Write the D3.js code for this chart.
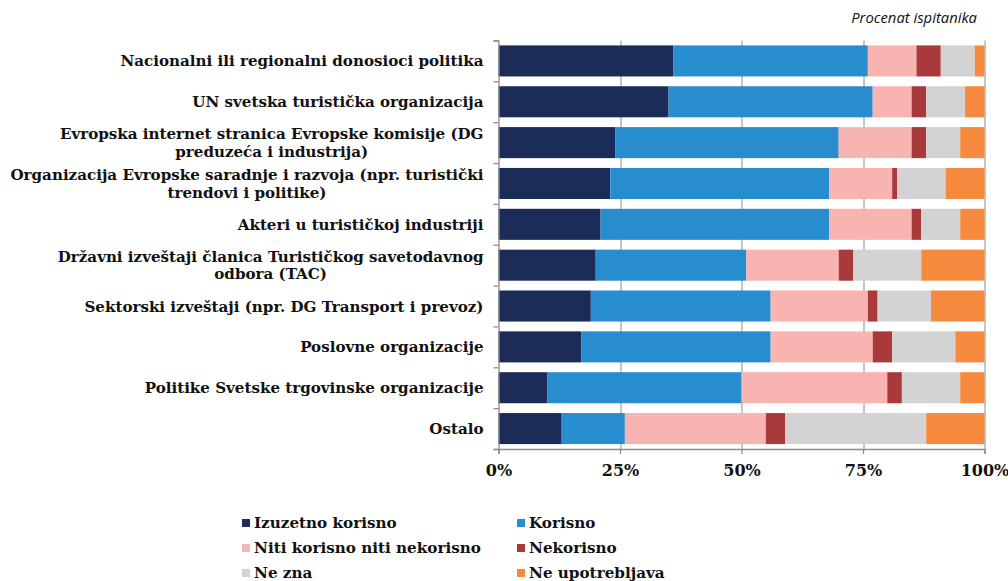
<!DOCTYPE html>
<html>
<head>
<meta charset="utf-8">
<script src="https://cdn.jsdelivr.net/npm/d3@7"></script>
<style>
  body { margin: 0; background: #fff; }
  text { fill: #111; }
  .lbl { font-family: "DejaVu Serif", Georgia, serif; font-weight: bold; font-size: 15.1px; }
  .tick-lbl { font-family: "DejaVu Serif", Georgia, serif; font-weight: bold; font-size: 16px; }
  .leg { font-family: "DejaVu Serif", Georgia, serif; font-weight: bold; font-size: 15.2px; }
  .note { font-family: "Open Sans", sans-serif; font-style: italic; font-size: 14.8px; }
</style>
</head>
<body>
<div id="chart"></div>
<script>
// Data
var categories = [
    "Nacionalni ili regionalni donosioci politika",
    "UN svetska turistička organizacija",
    "Evropska internet stranica Evropske komisije (DG\npreduzeća i industrija)",
    "Organizacija Evropske saradnje i razvoja (npr. turistički\ntrendovi i politike)",
    "Akteri u turističkoj industriji",
    "Državni izveštaji članica Turističkog savetodavnog\nodbora (TAC)",
    "Sektorski izveštaji (npr. DG Transport i prevoz)",
    "Poslovne organizacije",
    "Politike Svetske trgovinske organizacije",
    "Ostalo"
];
var seriesNames = ["Izuzetno korisno", "Korisno", "Niti korisno niti nekorisno", "Nekorisno", "Ne zna", "Ne upotrebljava"];
var izuzetnoKorisno = [36, 35, 24, 23, 21, 20, 19, 17, 10, 13];
var korisno = [40, 42, 46, 45, 47, 31, 37, 39, 40, 13];
var nitiKorisno = [10, 8, 15, 13, 17, 19, 20, 21, 30, 29];
var nekorisno = [5, 3, 3, 1, 2, 3, 2, 4, 3, 4];
var neZna = [7, 8, 7, 10, 8, 14, 11, 13, 12, 29];
var neUpotrebljava = [2, 4, 5, 8, 5, 13, 11, 6, 5, 12];
var xTicks = [0, 25, 50, 75, 100];
var colors = ["#1b2c59", "#288dce", "#f7b4b1", "#a9393a", "#d2d3d2", "#f68a3e"];

var svgWidth = 1008;
var svgHeight = 581;
var margin = { top: 40.5, right: 23.5, bottom: 132, left: 498.5 };
var chartWidth = svgWidth - margin.left - margin.right;
var chartHeight = svgHeight - margin.top - margin.bottom;

var svg = d3.select("#chart").append("svg")
    .attr("width", svgWidth)
    .attr("height", svgHeight);

var chartGroup = svg.append("g")
    .attr("transform", `translate(${margin.left},${margin.top})`);

// Build stack table
var allSeries = [izuzetnoKorisno, korisno, nitiKorisno, nekorisno, neZna, neUpotrebljava];
var table = categories.map(function(c, i) {
    var row = { cat: c };
    seriesNames.forEach(function(s, j) { row[s] = allSeries[j][i]; });
    return row;
});
var stacked = d3.stack().keys(seriesNames)(table);

var xScale = d3.scaleLinear().domain([0, 100]).range([0, chartWidth]);
var yScale = d3.scaleBand().domain(categories).range([0, chartHeight]).paddingInner(0.24).paddingOuter(0.12);
var yIndex = d3.scaleLinear().domain([0, categories.length]).range([0, chartHeight]);

// Gridlines
chartGroup.selectAll(".grid")
    .data(xTicks.slice(1))
    .enter()
    .append("line")
    .attr("x1", d => Math.round(xScale(d)) + 0.5)
    .attr("x2", d => Math.round(xScale(d)) + 0.5)
    .attr("y1", 0)
    .attr("y2", chartHeight)
    .attr("stroke", "#8c8c8c")
    .attr("stroke-width", 1);

// Bars
var layers = chartGroup.selectAll(".layer")
    .data(stacked)
    .enter()
    .append("g")
    .attr("fill", (d, i) => colors[i]);

layers.selectAll("rect")
    .data(d => d)
    .enter()
    .append("rect")
    .attr("x", d => xScale(d[0]))
    .attr("width", d => xScale(d[1]) - xScale(d[0]))
    .attr("y", d => yScale(d.data.cat))
    .attr("height", yScale.bandwidth());

// Y axis (ticks between categories)
var yAxis = d3.axisLeft(yIndex)
    .tickValues(d3.range(0, categories.length + 1))
    .tickSize(5)
    .tickFormat("");
var yAxisG = chartGroup.append("g").call(yAxis);
yAxisG.selectAll("path, line").attr("stroke", "#8c8c8c").attr("stroke-width", 1.3);

// X axis
var xAxis = d3.axisBottom(xScale)
    .tickValues(xTicks)
    .tickSize(5)
    .tickPadding(11)
    .tickFormat(d => d + "%");
var xAxisG = chartGroup.append("g")
    .attr("transform", `translate(0,${chartHeight})`)
    .call(xAxis);
xAxisG.selectAll("path, line").attr("stroke", "#8c8c8c").attr("stroke-width", 1.3);
xAxisG.selectAll("text").attr("class", "tick-lbl").attr("fill", "#111");

// Category labels
var labelRight = -15;
categories.forEach(function(c) {
    var lines = c.split("\n");
    var cy = yScale(c) + yScale.bandwidth() / 2;
    var t = chartGroup.append("text").attr("class", "lbl");
    var lh = 17.5;
    var y0 = cy - (lines.length - 1) * lh / 2 + 5.5;
    var spans = lines.map(function(l, k) {
        return t.append("tspan").attr("y", y0 + k * lh).text(l);
    });
    var maxW = d3.max(spans, s => s.node().getComputedTextLength());
    spans.forEach(function(s) {
        s.attr("x", labelRight - maxW / 2).attr("text-anchor", "middle");
    });
});

// Subtitle
svg.append("text")
    .attr("class", "note")
    .attr("x", 977)
    .attr("y", 22.5)
    .attr("text-anchor", "end")
    .text("Procenat ispitanika");

// Legend
var legendX = [242, 517];
var legendY = [519, 544, 569];
var legend = svg.selectAll(".legend")
    .data(seriesNames)
    .enter()
    .append("g")
    .attr("transform", (d, i) => `translate(${legendX[i % 2]},${legendY[Math.floor(i / 2)]})`);
legend.append("rect")
    .attr("width", 8)
    .attr("height", 8)
    .attr("fill", (d, i) => colors[i]);
legend.append("text")
    .attr("class", "leg")
    .attr("x", 12)
    .attr("y", 9)
    .text(d => d);
</script>
</body>
</html>
